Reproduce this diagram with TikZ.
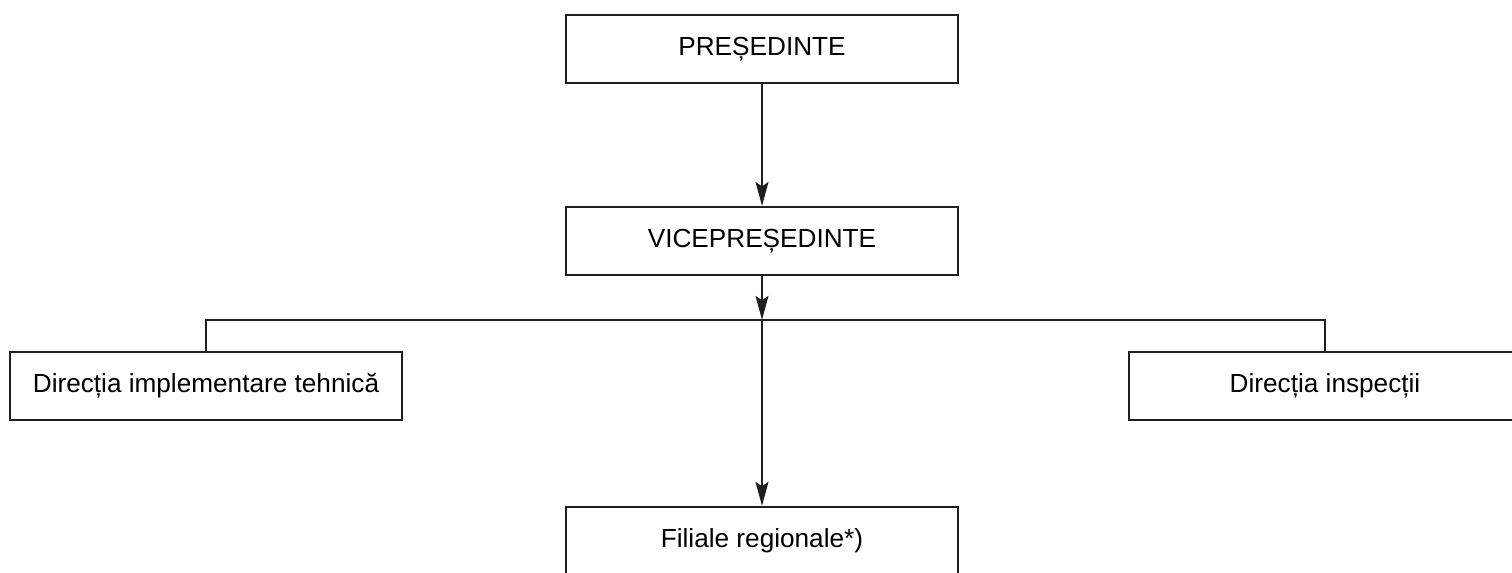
\documentclass[tikz,border=0pt]{standalone}
\usepackage{fontspec}
\setmainfont{Liberation Sans}
\usetikzlibrary{positioning, arrows.meta}
\newcommand{\BoxWidth}{7.84cm}
\newcommand{\BoxHeight}{1.36cm}
\tikzset{OrgBox/.style={
    inner sep=0pt,
    minimum width=\BoxWidth,
    minimum height=\BoxHeight,
    draw=black!88,
    line width=1.1pt,
    fill=white,
    align=center,
    font=\fontsize{14.9}{17}\selectfont
    }
}
\tikzset{Link/.style={
    draw=black!88,
    line width=0.8pt,
    -{Stealth[length=4.8mm, width=2.6mm, inset=0.9mm]}
    }
}
\tikzset{Bar/.style={
    draw=black!88,
    line width=0.8pt
    }
}

\begin{document}
\begin{tikzpicture}[x=0.02cm, y=0.02cm]
    \useasboundingbox (0,0) rectangle (1512,572);
    \clip (0,0) rectangle (1512,572);

    \node (Pres) [OrgBox] at (762,523) {PREȘEDINTE};

    \node (Vice) [OrgBox, below=2.44cm of Pres] {VICEPREȘEDINTE};

    \coordinate [below=0.88cm of Vice] (Bus);

    \node (DirTech) [OrgBox] at (206,186) {Direcția implementare tehnică};

    \node (DirInsp) [OrgBox] at (1325,186) {Direcția inspecții};

    \node (Filiale) [OrgBox, below=4.60cm of Vice] {Filiale regionale*)};

    \draw[Link] (Pres) -- (Vice);
    \draw[Link] (Vice) -- (Bus);
    \draw[Link] (Bus) -- (Filiale);

    \draw[Bar] (DirTech.north) |- (Bus) -| (DirInsp.north);

\end{tikzpicture}
\end{document}
